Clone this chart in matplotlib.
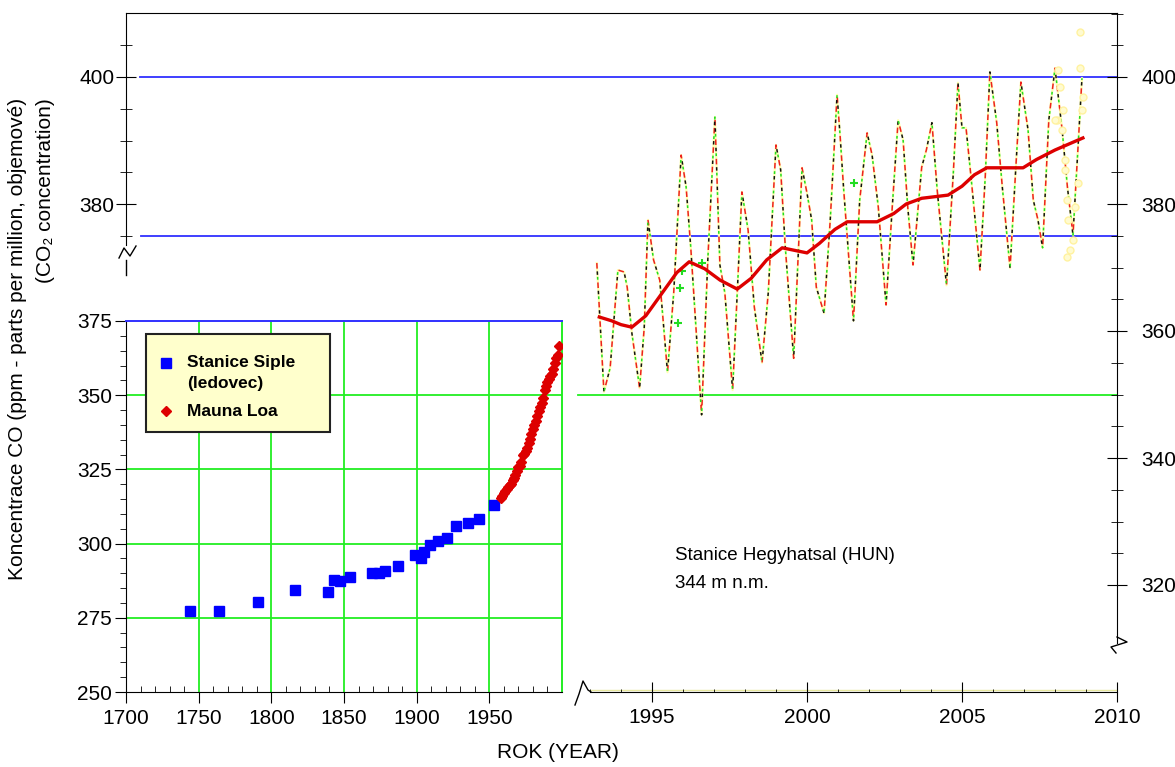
import matplotlib
matplotlib.use('Agg')
import matplotlib.pyplot as plt
from matplotlib.lines import Line2D
from matplotlib.patches import Rectangle

W, H = 1175, 767
plt.rcParams['font.family'] = ['Liberation Sans', 'DejaVu Sans']
plt.rcParams['lines.scale_dashes'] = False

# ---------------- data ----------------
siple_years = [1744, 1764, 1791, 1816, 1839, 1843, 1847, 1854, 1869, 1874, 1878,
               1887, 1899, 1903, 1905, 1909, 1915, 1921, 1927, 1935, 1943, 1953]
siple_ppm = [277.2, 277.2, 280.3, 284.4, 283.6, 287.8, 287.3, 288.6, 290.0, 290.1, 290.9,
             292.6, 296.3, 295.3, 297.3, 299.6, 301.0, 301.9, 306.0, 306.8, 308.4, 313.0]

mauna_years = [1958, 1959, 1960, 1961, 1962, 1963, 1964, 1965, 1966, 1967, 1968,
               1969, 1970, 1971, 1972, 1973, 1974, 1975, 1976, 1977, 1978, 1979,
               1980, 1981, 1982, 1983, 1984, 1985, 1986, 1987, 1988, 1989, 1990,
               1991, 1992, 1993, 1994, 1995, 1996, 1997, 1998]
mauna_ppm = [315.3, 316.0, 316.9, 317.6, 318.5, 319.0, 319.6, 320.0, 321.4, 322.2, 323.0,
             324.6, 325.7, 326.3, 327.5, 329.7, 330.2, 331.1, 332.1, 333.8, 335.4, 336.8,
             338.7, 340.1, 341.4, 343.0, 344.6, 346.0, 347.4, 349.2, 351.6, 353.1, 354.4,
             355.6, 356.4, 357.1, 358.8, 360.8, 362.6, 363.7, 366.7]

hh_years = [1993.22, 1993.45, 1993.65, 1993.9, 1994.1, 1994.2, 1994.35, 1994.6, 1994.75, 1994.87,
            1995.05, 1995.25, 1995.5, 1995.7, 1995.94, 1996.1, 1996.25, 1996.6, 1996.8, 1997.03,
            1997.19, 1997.35, 1997.6, 1997.75, 1997.9, 1998.1, 1998.3, 1998.55, 1998.75, 1999.0,
            1999.15, 1999.3, 1999.57, 1999.84, 2000.0, 2000.15, 2000.3, 2000.55, 2000.75, 2000.97,
            2001.07, 2001.18, 2001.5, 2001.7, 2001.94, 2002.1, 2002.3, 2002.55, 2002.75, 2002.94,
            2003.1, 2003.25, 2003.42, 2003.7, 2003.85, 2004.03, 2004.2, 2004.5, 2004.72, 2004.87,
            2005.0, 2005.13, 2005.3, 2005.58, 2005.75, 2005.9, 2006.12, 2006.3, 2006.55, 2006.75,
            2006.9, 2007.13, 2007.3, 2007.45, 2007.6, 2007.8, 2008.0, 2008.23, 2008.4, 2008.58,
            2008.87]
hh_ppm = [370.7, 350.4, 354.2, 369.6, 369.3, 366.9, 359.7, 351.0, 360.6, 377.5,
          371.2, 368.0, 353.5, 366.0, 387.7, 382.7, 373.2, 346.8, 371.2, 393.7,
          370.4, 366.0, 350.7, 366.0, 381.9, 375.9, 363.8, 355.0, 366.0, 389.3,
          385.4, 373.2, 355.7, 385.7, 381.7, 377.5, 366.9, 362.8, 377.5, 397.2,
          390.6, 382.5, 361.6, 380.6, 391.2, 387.7, 379.5, 364.1, 379.5, 393.2,
          390.1, 379.5, 370.4, 385.8, 388.5, 392.8, 382.2, 367.2, 384.9, 399.1,
          392.0, 392.0, 383.8, 369.6, 384.3, 400.8, 392.8, 382.7, 369.9, 386.9,
          399.2, 391.7, 380.6, 377.5, 373.1, 393.2, 401.4, 391.7, 382.7, 375.1,
          399.8]

trend_years = [1993.3, 1993.7, 1994.0, 1994.35, 1994.8, 1995.3, 1995.8, 1996.2, 1996.7, 1997.2,
               1997.75, 1998.2, 1998.7, 1999.2, 1999.6, 2000.0, 2000.4, 2000.9, 2001.3, 2002.26,
               2002.8, 2003.2, 2003.7, 2004.55, 2005.0, 2005.4, 2005.8, 2006.97, 2007.4, 2008.0,
               2008.9]
trend_ppm = [362.2, 361.6, 361.0, 360.6, 362.4, 365.8, 369.2, 370.9, 369.8, 368.0,
             366.6, 368.3, 371.2, 373.1, 372.7, 372.3, 373.8, 376.0, 377.2, 377.2,
             378.5, 380.0, 380.9, 381.4, 382.8, 384.6, 385.7, 385.7, 387.0, 388.5,
             390.4]

plus_years = [1995.84, 1995.90, 1995.97, 1996.61, 2001.52]
plus_ppm = [361.3, 366.8, 369.4, 370.7, 383.3]

circ_years = [2008.10, 2008.06, 2008.26, 2008.32, 2008.39, 2008.42, 2008.48, 2008.39, 2008.81,
              2008.81, 2008.90, 2008.87, 2008.74, 2008.65, 2008.58, 2008.16, 2008.23, 2008.0,
              2008.32]
circ_ppm = [401.1, 393.2, 394.8, 386.9, 380.6, 377.5, 372.8, 371.7, 407.1,
            401.4, 396.9, 394.8, 383.3, 379.5, 374.3, 398.4, 391.7, 393.2,
            385.4]

left_xticks = [1700, 1750, 1800, 1850, 1900, 1950]
left_yticks = [250, 275, 300, 325, 350, 375]
right_xticks = [1995, 2000, 2005, 2010]
right_yticks = [320, 340, 360, 380, 400]
upper_left_yticks = [380, 400]

# ---------------- styles ----------------
GREEN = '#22ee22'
BLUE = '#3030ff'
FS = 15


def fb(l, t, r, b):
    return [l / W, 1 - b / H, (r - l) / W, (b - t) / H]


def fx(p):
    return p / W


def fy(p):
    return 1 - p / H


fig = plt.figure(figsize=(W / 100, H / 100), dpi=100)
fig.patch.set_facecolor('white')

# ---------------- lower-left panel ----------------
ax = fig.add_axes(fb(126, 321, 562, 692))
ax.set_xlim(1700, 2000)
ax.set_ylim(250, 375)
ax.set_facecolor('none')
for x in [1750, 1800, 1850, 1900, 1950]:
    ax.axvline(x, color=GREEN, lw=1.3, zorder=1)
for y in [275, 300, 325, 350]:
    ax.axhline(y, color=GREEN, lw=1.3, zorder=1)
ax.axhline(350, xmin=(578 - 126) / 436, xmax=(1117 - 126) / 436, color=GREEN, lw=1.3,
           clip_on=False, zorder=1)
ax.spines['top'].set_color(BLUE)
ax.spines['top'].set_linewidth(1.4)
ax.spines['right'].set_color(GREEN)
ax.spines['right'].set_linewidth(1.4)
ax.set_xticks(left_xticks)
ax.set_xticks(list(range(1710, 2000, 10)), minor=True)
ax.set_yticks(left_yticks)
ax.set_yticks(list(range(255, 375, 5)), minor=True)
ax.tick_params(axis='x', which='major', direction='out', length=8, labelsize=FS, pad=4)
ax.tick_params(axis='x', which='minor', direction='in', length=4)
ax.tick_params(axis='y', which='major', direction='out', length=8, labelsize=FS, pad=2)
ax.tick_params(axis='y', which='minor', direction='out', length=4)
ax.plot(siple_years, siple_ppm, ls='none', marker='s', ms=7, color='#0000ff', zorder=3)
ax.plot(mauna_years, mauna_ppm, ls='none', marker='D', ms=5.2, color='#dd0000',
        mec='#dd0000', zorder=3)

# ---------------- right panel (overlay spanning full width) ----------------
axr = fig.add_axes(fb(126, 13, 1117, 692))
axr.set_facecolor('none')
axr.set_xlim(2010 - 991 / 31, 2010)
axr.set_ylim(400 - 615 / 6.35, 400 + 64 / 6.35)
axr.spines['left'].set_visible(False)
axr.spines['right'].set_bounds(400 - 566 / 6.35, 400 + 64 / 6.35)
axr.spines['bottom'].set_bounds(1993.0, 2010)
axr.yaxis.tick_right()
axr.set_yticks(right_yticks)
axr.set_yticks([325, 330, 335, 345, 350, 355, 365, 370, 375, 385, 390, 395, 405, 410], minor=True)
axr.set_xticks(right_xticks)
axr.set_xticks([1993, 1994, 1996, 1997, 1998, 1999, 2001, 2002, 2003, 2004, 2006, 2007,
                2008, 2009], minor=True)
axr.tick_params(axis='y', which='major', direction='inout', length=15, labelsize=FS, pad=10)
axr.tick_params(axis='y', which='minor', direction='inout', length=9)
axr.tick_params(axis='x', which='major', direction='inout', length=15, labelsize=FS, pad=4)
axr.tick_params(axis='x', which='minor', direction='in', length=2)
axr.axhline(400, xmin=14 / 991, xmax=1, color=BLUE, lw=1.3, zorder=1)
axr.axhline(375, xmin=15 / 991, xmax=1, color=BLUE, lw=1.3, zorder=1)
axr.axhline(400 - 615 / 6.35 + 0.25, xmin=(590 - 126) / 991, xmax=1, color='#e8e8a0', lw=1.0,
            zorder=1)

# monthly series drawn as multicoloured dashed line
axr.plot(hh_years, hh_ppm, color='#ffffb0', lw=1.6, zorder=2)
l_red, = axr.plot(hh_years, hh_ppm, color='#ee2020', lw=1.1, zorder=3)
l_red.set_dashes((4, 10))
l_blk, = axr.plot(hh_years, hh_ppm, color='#111111', lw=1.1, zorder=3)
l_blk.set_dashes((0, 6, 2.5, 5.5))
l_grn, = axr.plot(hh_years, hh_ppm, color='#22dd22', lw=1.1, zorder=3)
l_grn.set_dashes((0, 10, 2, 2))
axr.plot(plus_years, plus_ppm, ls='none', marker='+', ms=6, mew=1.5, color='#22dd22', zorder=3)
axr.plot(trend_years, trend_ppm, color='#dd0000', lw=2.4, zorder=4)
axr.plot(circ_years, circ_ppm, ls='none', marker='o', ms=5, mfc='#fffbd0', mec='#fff2a0',
         zorder=5)

# ---------------- upper-left axis segment ----------------
axu = fig.add_axes(fb(126, 13, 127, 275))
axu.set_facecolor('none')
axu.set_ylim(400 - 198 / 6.35, 400 + 64 / 6.35)
for s in ['top', 'right', 'bottom']:
    axu.spines[s].set_visible(False)
axu.spines['left'].set_bounds(400 - 168 / 6.35, 400 + 64 / 6.35)
axu.set_xticks([])
axu.set_yticks(upper_left_yticks)
axu.set_yticks([375, 385, 390, 395, 405], minor=True)
axu.tick_params(axis='y', which='major', direction='inout', length=15, labelsize=FS, pad=1)
axu.tick_params(axis='y', which='minor', direction='inout', length=8)

# ---------------- break marks ----------------
def figline(xs, ys, **kw):
    fig.add_artist(Line2D([fx(v) for v in xs], [fy(v) for v in ys], transform=fig.transFigure,
                          color='black', lw=1, **kw))

figline([126, 126], [260, 275])
figline([119, 124, 130, 136], [258, 248, 256, 246])
figline([1117, 1127, 1111, 1116], [637, 642, 647, 653])
figline([575, 579, 583, 588, 591], [705, 694, 681, 690, 692])

# ---------------- legend ----------------
fig.add_artist(Rectangle((fx(146), fy(432)), (330 - 146) / W, (432 - 334) / H,
                         transform=fig.transFigure, facecolor='#ffffcc', edgecolor='#222222',
                         lw=1.5, zorder=6))
fig.add_artist(Line2D([fx(166)], [fy(363)], transform=fig.transFigure, marker='s', ms=6.5,
                      color='#0000ff', ls='none', zorder=7))
fig.add_artist(Line2D([fx(166)], [fy(411)], transform=fig.transFigure, marker='D', ms=5,
                      color='#dd0000', ls='none', zorder=7))
fig.text(fx(187), fy(363), 'Stanice Siple', fontsize=12.5, fontweight='bold', va='center',
         ha='left', zorder=8)
fig.text(fx(187), fy(383), '(ledovec)', fontsize=12.5, fontweight='bold', va='center',
         ha='left', zorder=8)
fig.text(fx(187), fy(411), 'Mauna Loa', fontsize=12.5, fontweight='bold', va='center',
         ha='left', zorder=8)

# ---------------- texts ----------------
fig.text(fx(675), fy(556), 'Stanice Hegyhatsal (HUN)', fontsize=13.5, va='center', ha='left')
fig.text(fx(675), fy(583), '344 m n.m.', fontsize=13.5, va='center', ha='left')
fig.text(fx(558), fy(752), 'ROK (YEAR)', fontsize=FS, va='center', ha='center')
fig.text(fx(18), fy(98), 'Koncentrace CO (ppm - parts per million, objemové)', fontsize=FS,
         rotation=90, rotation_mode='anchor', ha='right', va='center')
fig.text(fx(46), fy(98), '(CO\u2082 concentration)', fontsize=FS,
         rotation=90, rotation_mode='anchor', ha='right', va='center')

fig.savefig('out.png', dpi=100)
